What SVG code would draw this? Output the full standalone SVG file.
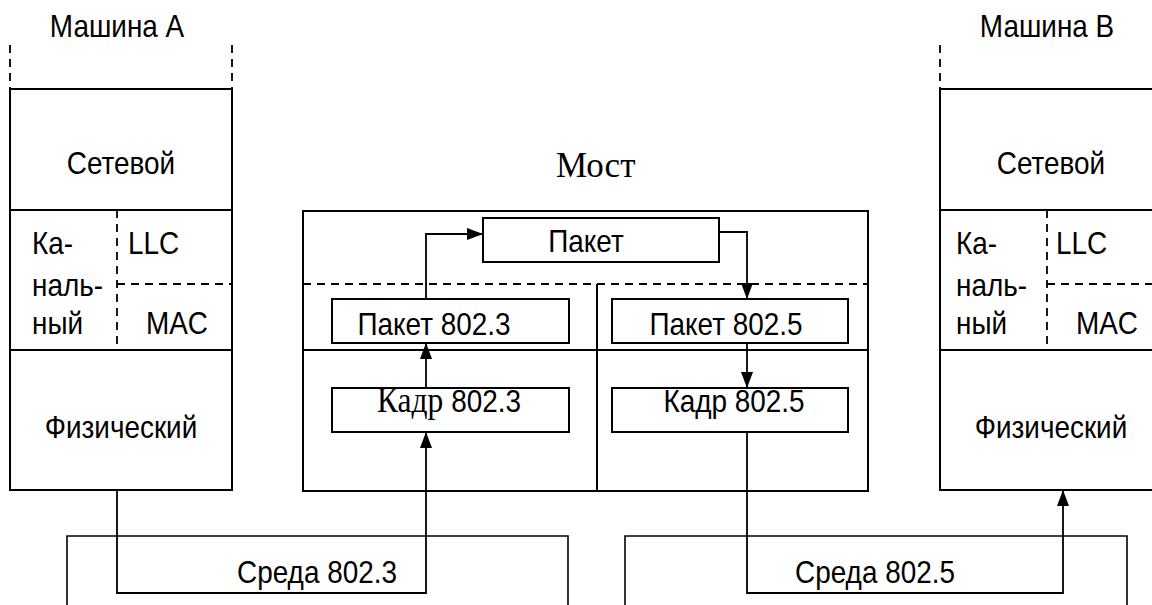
<svg xmlns="http://www.w3.org/2000/svg" width="1152" height="605" viewBox="0 0 1152 605">
<defs>
<marker id="arr" viewBox="0 0 16 12" refX="16" refY="6" markerWidth="16" markerHeight="12" markerUnits="userSpaceOnUse" orient="auto">
<path d="M0,0 L16,6 L0,12 z" fill="#000"/>
</marker>
<style>
.box{fill:none;stroke:#000;stroke-width:2}
.thin{fill:none;stroke:#000;stroke-width:1.6}
.dash{fill:none;stroke:#000;stroke-width:1.8;stroke-dasharray:8 6}
.t{font-family:"Liberation Sans",Arial,sans-serif;font-size:31px;fill:#000}
.s{font-family:"Liberation Serif","Times New Roman",serif;font-size:35px;fill:#000}
.m{text-anchor:middle}
.con{fill:none;stroke:#000;stroke-width:1.8;marker-end:url(#arr)}
</style>
</defs>
<rect width="1152" height="605" fill="#fff"/>

<g id="machineA">
<text class="t m" transform="translate(117,37) scale(0.9,1)">Машина А</text>
<line class="dash" x1="10" y1="45" x2="10" y2="89"/>
<line class="dash" x1="232" y1="45" x2="232" y2="89"/>
<rect class="box" x="10" y="89" width="222" height="401"/>
<line class="box" x1="10" y1="210" x2="232" y2="210"/>
<line class="box" x1="10" y1="350" x2="232" y2="350"/>
<line class="dash" x1="117" y1="210" x2="117" y2="350"/>
<line class="dash" x1="117" y1="284" x2="232" y2="284"/>
<text class="t m" transform="translate(121,174) scale(0.9,1)">Сетевой</text>
<text class="t" transform="translate(32,254) scale(0.9,1)">Ка-</text>
<text class="t" transform="translate(32,296) scale(0.9,1)">наль-</text>
<text class="t" transform="translate(32,334) scale(0.9,1)">ный</text>
<text class="t" transform="translate(128,254) scale(0.9,1)">LLC</text>
<text class="t m" transform="translate(177,334) scale(0.9,1)">MAC</text>
<text class="t m" transform="translate(121,438) scale(0.9,1)">Физический</text>
</g>

<g id="machineB">
<text class="t m" transform="translate(1047,37) scale(0.9,1)">Машина B</text>
<line class="dash" x1="940" y1="45" x2="940" y2="89"/>
<rect class="box" x="940" y="89" width="222" height="401"/>
<line class="box" x1="940" y1="210" x2="1162" y2="210"/>
<line class="box" x1="940" y1="350" x2="1162" y2="350"/>
<line class="dash" x1="1047" y1="210" x2="1047" y2="350"/>
<line class="dash" x1="1047" y1="284" x2="1162" y2="284"/>
<text class="t m" transform="translate(1051,174) scale(0.9,1)">Сетевой</text>
<text class="t" transform="translate(956,254) scale(0.9,1)">Ка-</text>
<text class="t" transform="translate(956,296) scale(0.9,1)">наль-</text>
<text class="t" transform="translate(956,334) scale(0.9,1)">ный</text>
<text class="t" transform="translate(1056,254) scale(0.9,1)">LLC</text>
<text class="t m" transform="translate(1107,334) scale(0.9,1)">MAC</text>
<text class="t m" transform="translate(1051,438) scale(0.9,1)">Физический</text>
</g>

<g id="bridge">
<text class="s" x="556" y="177">Мост</text>
<rect class="box" x="303" y="211" width="565" height="280"/>
<line class="dash" x1="303" y1="284" x2="868" y2="284"/>
<line class="box" x1="303" y1="350" x2="868" y2="350"/>
<line class="box" x1="597" y1="284" x2="597" y2="491"/>
</g>

<g id="packet">
<rect class="box" x="483" y="218" width="236" height="44"/>
<text class="t m" transform="translate(586,252) scale(0.9,1)">Пакет</text>
</g>
<g id="packet8023">
<rect class="box" x="332" y="299" width="237" height="44"/>
<text class="t m" transform="translate(434,335) scale(0.9,1)">Пакет 802.3</text>
</g>
<g id="packet8025">
<rect class="box" x="612" y="299" width="236" height="44"/>
<text class="t m" transform="translate(726,335) scale(0.9,1)">Пакет 802.5</text>
</g>
<g id="frame8023">
<rect class="box" x="332" y="388" width="237" height="44"/>
<text class="t" transform="translate(377,412) scale(0.9,1)"><tspan class="s">Кадр </tspan>802.3</text>
</g>
<g id="frame8025">
<rect class="box" x="612" y="388" width="236" height="44"/>
<text class="t m" transform="translate(734,412) scale(0.9,1)">Кадр 802.5</text>
</g>
<g id="medium8023">
<path class="thin" d="M67,605 V536 H568 V605"/>
<text class="t m" transform="translate(317,583) scale(0.9,1)">Среда 802.3</text>
</g>
<g id="medium8025">
<path class="thin" d="M625,605 V536 H1127 V605"/>
<text class="t m" transform="translate(875,583) scale(0.9,1)">Среда 802.5</text>
</g>

<g id="connectors">
<path class="con" d="M117,490 V593 H426 V432"/>
<path class="con" d="M426,388 V343"/>
<path class="con" d="M426,299 V234 H483"/>
<path class="con" d="M719,232 H747 V299"/>
<path class="con" d="M747,343 V388"/>
<path class="con" d="M747,432 V593 H1063 V490"/>
</g>
</svg>
